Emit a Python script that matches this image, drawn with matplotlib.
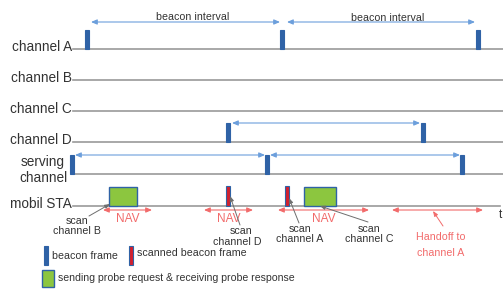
"""Scanning / handoff timing diagram."""

import matplotlib.pyplot as plt
import matplotlib.patches as mpatches

BLUE = "#2F62A6"
ARROW_BLUE = "#6C9FDC"
GREEN = "#8CC63F"
RED = "#D3202E"
NAV_RED = "#F26B6B"
LINE = "#9A9A9A"
TEXT = "#333333"

plt.rcParams["font.family"] = ["Liberation Sans", "DejaVu Sans"]

# rows: label and baseline (time axis drawn per row)
rows = ["channel A", "channel B", "channel C", "channel D", "serving\nchannel", "mobil STA"]
row_y = [49, 80, 111, 142, 174, 206]

# beacon times per row (same time units as x axis)
beacons_A = [87, 282, 478]
beacons_D = [228, 423]
beacons_serving = [72, 267, 462]
# mobile STA activity
scanned_beacons = [228, 287]
probe_start = [109, 304]
probe_end = [137, 336]
nav_start = [103, 204, 278]
nav_end = [152, 253, 369]
handoff = (392, 483)

fig = plt.figure(figsize=(5.03, 2.89), dpi=100)
ax = fig.add_axes([0, 0, 1, 1])
ax.set_xlim(0, 503)
ax.set_ylim(289, 0)
ax.axis("off")

BEACON_H = 19
BEACON_W = 4.5
LABEL_FS = 9.8
SMALL_FS = 7.7


def beacon(x, y, color=BLUE, w=BEACON_W, h=BEACON_H):
    ax.add_patch(mpatches.Rectangle((x - w / 2, y - h), w, h, facecolor=color,
                                    edgecolor=BLUE, linewidth=0.8, zorder=3))


def interval_arrow(x0, x1, y, color=ARROW_BLUE):
    ax.annotate("", xy=(x1, y), xytext=(x0, y),
                arrowprops=dict(arrowstyle="<|-|>,head_length=0.35,head_width=0.15",
                                color=color, lw=0.8, shrinkA=0, shrinkB=0))


# baselines + labels
for name, y in zip(rows, row_y):
    end = 500 if name == "mobil STA" else 503
    ax.plot([73, end], [y, y], color=LINE, lw=1.2, zorder=1)
    if "\n" in name:
        top, bot = name.split("\n")
        ax.text(43, y - 12, top, ha="center", va="center", fontsize=LABEL_FS, color=TEXT)
        ax.text(43, y + 4, bot, ha="center", va="center", fontsize=LABEL_FS, color=TEXT)
    else:
        ax.text(72, y - 2, name, ha="right", va="center", fontsize=LABEL_FS, color=TEXT)

# beacons
for x in beacons_A:
    beacon(x, row_y[0])
for x in beacons_D:
    beacon(x, row_y[3])
for x in beacons_serving:
    beacon(x, row_y[4])

# beacon interval arrows
interval_arrow(beacons_A[0] + 4, beacons_A[1] - 2, 22)
interval_arrow(beacons_A[1] + 5, beacons_A[2] - 3, 22)
ax.text(193, 17, "beacon interval", ha="center", va="center", fontsize=SMALL_FS, color=TEXT)
ax.text(388, 18, "beacon interval", ha="center", va="center", fontsize=SMALL_FS, color=TEXT)
interval_arrow(beacons_D[0] + 4, beacons_D[1] - 3, 123)
interval_arrow(beacons_serving[0] + 3, beacons_serving[1] - 2, 155)
interval_arrow(beacons_serving[1] + 3, beacons_serving[2] - 2, 155)

# mobile STA
sta_y = row_y[5]
for x in scanned_beacons:
    beacon(x, sta_y, color=RED, w=4, h=20)
for x0, x1 in zip(probe_start, probe_end):
    ax.add_patch(mpatches.Rectangle((x0, sta_y - 19), x1 - x0, 19, facecolor=GREEN,
                                    edgecolor=BLUE, linewidth=1.0, zorder=3))

for x0, x1 in zip(nav_start, nav_end):
    interval_arrow(x0, x1, 210, color=NAV_RED)
    ax.text((x0 + x1) / 2, 219, "NAV", ha="center", va="center", fontsize=8.6, color=NAV_RED)
interval_arrow(handoff[0], handoff[1], 210, color=NAV_RED)
ax.text(499, 215, "t", ha="left", va="center", fontsize=8.5, color=TEXT)

# callouts
gray_arrow = dict(arrowstyle="-|>,head_length=0.3,head_width=0.12", color="#6E6E6E",
                  lw=0.7, shrinkA=0, shrinkB=0)
ax.annotate("", xy=(110, 204), xytext=(89, 216), arrowprops=gray_arrow)
ax.text(77, 221, "scan", ha="center", va="center", fontsize=SMALL_FS, color=TEXT)
ax.text(77, 231, "channel B", ha="center", va="center", fontsize=SMALL_FS, color=TEXT)

ax.annotate("", xy=(230, 196), xytext=(240, 225), arrowprops=gray_arrow)
ax.text(241, 231, "scan", ha="center", va="center", fontsize=SMALL_FS, color=TEXT)
ax.text(237, 242, "channel D", ha="center", va="center", fontsize=SMALL_FS, color=TEXT)

ax.annotate("", xy=(289, 198), xytext=(299, 223), arrowprops=gray_arrow)
ax.text(300, 229, "scan", ha="center", va="center", fontsize=SMALL_FS, color=TEXT)
ax.text(300, 239, "channel A", ha="center", va="center", fontsize=SMALL_FS, color=TEXT)

ax.annotate("", xy=(320, 206), xytext=(368, 222), arrowprops=gray_arrow)
ax.text(369, 229, "scan", ha="center", va="center", fontsize=SMALL_FS, color=TEXT)
ax.text(369, 239, "channel C", ha="center", va="center", fontsize=SMALL_FS, color=TEXT)

red_arrow = dict(arrowstyle="-|>,head_length=0.3,head_width=0.12", color=NAV_RED,
                 lw=0.7, shrinkA=0, shrinkB=0)
ax.annotate("", xy=(433, 211), xytext=(443, 226), arrowprops=red_arrow)
ax.text(441, 237, "Handoff to", ha="center", va="center", fontsize=SMALL_FS, color=NAV_RED)
ax.text(441, 253, "channel A", ha="center", va="center", fontsize=SMALL_FS, color=NAV_RED)

# legend
beacon(46, 265, h=19)
ax.text(52, 256, "beacon frame", ha="left", va="center", fontsize=SMALL_FS, color=TEXT)
beacon(131, 265, color=RED, w=4, h=19)
ax.text(137, 253, "scanned beacon frame", ha="left", va="center", fontsize=SMALL_FS, color=TEXT)
ax.add_patch(mpatches.Rectangle((42, 270), 12, 17, facecolor=GREEN, edgecolor=BLUE,
                                linewidth=1.0, zorder=3))
ax.text(58, 278, "sending probe request & receiving probe response", ha="left",
        va="center", fontsize=7.6, color=TEXT)

fig.savefig("out.png", dpi=100, facecolor="white")
